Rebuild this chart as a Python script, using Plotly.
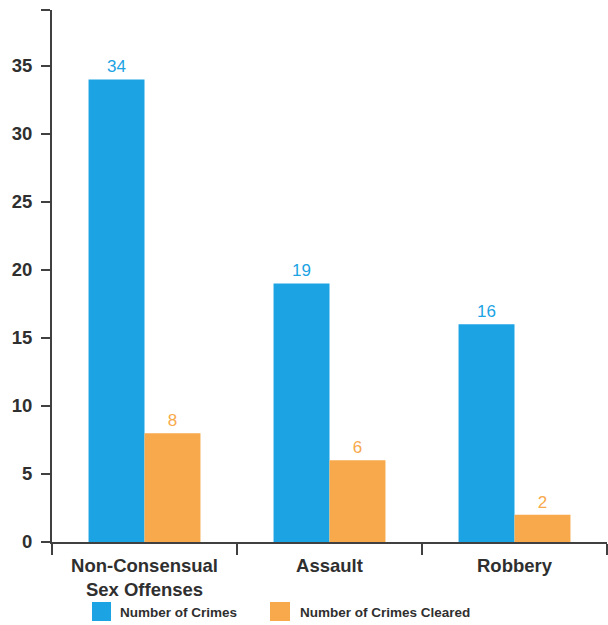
import plotly.graph_objects as go

categories = ["Non-Consensual<br>Sex Offenses", "Assault", "Robbery"]
crimes = [34, 19, 16]
cleared = [8, 6, 2]
series_names = ["Number of Crimes", "Number of Crimes Cleared"]
ytick_vals = [0, 5, 10, 15, 20, 25, 30, 35, 39.1]
ytick_text = ["0", "5", "10", "15", "20", "25", "30", "35", ""]

blue = "#1BA3E4"
orange = "#F7A94B"
font = "Liberation Sans, Arial, sans-serif"
axis_col = "#404040"
text_col = "#2f2f2f"

fig = go.Figure()
fig.add_trace(go.Bar(x=categories, y=crimes, name=series_names[0],
                     marker=dict(color=blue, line=dict(width=0)),
                     text=crimes, textposition="outside",
                     textfont=dict(color=blue, size=17, family=font),
                     cliponaxis=False))
fig.add_trace(go.Bar(x=categories, y=cleared, name=series_names[1],
                     marker=dict(color=orange, line=dict(width=0)),
                     text=cleared, textposition="outside",
                     textfont=dict(color=orange, size=17, family=font),
                     cliponaxis=False))

# custom legend (swatches + labels) below the plot
L, R, T, B = 52, 607, 10, 542
W, H = R - L, B - T
def px(x):
    return (x - L) / W
def py(y):
    return (B - y) / H

legend_items = [(blue, 92, 111, 118), (orange, 270, 290, 298)]
for (col, x0, x1, tx), name in zip(legend_items, series_names):
    fig.add_shape(type="rect", xref="paper", yref="paper",
                  x0=px(x0), x1=px(x1), y0=py(621), y1=py(602),
                  fillcolor=col, line=dict(width=0))
    fig.add_annotation(xref="paper", yref="paper", x=px(tx), y=py(612),
                       xanchor="left", yanchor="middle", text="<b>%s</b>" % name,
                       showarrow=False, font=dict(size=13.5, color=text_col, family=font))

fig.update_layout(
    width=608, height=625,
    margin=dict(l=L, r=608 - R, t=T, b=625 - B, autoexpand=False),
    paper_bgcolor="white", plot_bgcolor="white",
    barmode="group", bargap=0.395, bargroupgap=0,
    font=dict(family=font, color=text_col),
    showlegend=False,
    xaxis=dict(showline=True, linecolor=axis_col, linewidth=2,
               ticks="outside", ticklen=11, tickwidth=2, tickcolor=axis_col,
               tickson="boundaries", automargin=False, ticklabelstandoff=6,
               tickfont=dict(size=18.5, color=text_col, weight="bold"),
               showgrid=False, zeroline=False),
    yaxis=dict(range=[0, 39.1], showline=True, linecolor=axis_col, linewidth=2,
               ticks="outside", ticklen=9, tickwidth=2, tickcolor=axis_col,
               tickvals=ytick_vals, ticktext=ytick_text, automargin=False,
               ticklabelstandoff=5,
               tickfont=dict(size=18.5, color=text_col, weight="bold"),
               showgrid=False, zeroline=False),
)

fig.write_html("out.html", config={"displayModeBar": False},
               post_script="document.body.style.margin='0px';document.body.style.overflow='hidden';")
